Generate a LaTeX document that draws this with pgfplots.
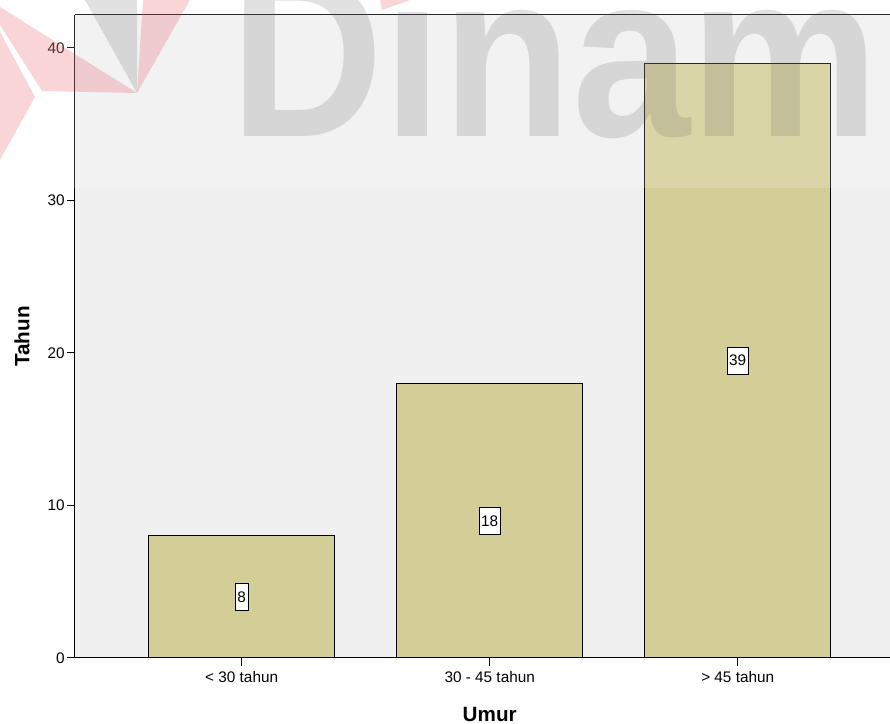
\documentclass[border=0pt]{standalone}
\usepackage{fontspec}
\setmainfont{Liberation Sans}
\usepackage{pgfplots}
\pgfplotsset{compat=1.18}
\definecolor{barfill}{RGB}{211,206,151}
\definecolor{plotbg}{RGB}{240,240,240}
\definecolor{wmgray}{RGB}{60,60,60}
\definecolor{wmred}{RGB}{225,30,45}
\begin{document}
\begin{tikzpicture}
\begin{axis}[
  at={(0,0)}, anchor=south west,
  scale only axis, width=611.25pt, height=482.25pt,
  xmin=-0.672, xmax=2.614, ymin=0, ymax=42.16,
  axis background/.style={fill=plotbg},
  axis x line*=bottom, axis y line*=left,
  axis line style={black, line width=0.75pt, -},
  xtick={0,1,2},
  xticklabels={{< 30 tahun},{30 - 45 tahun},{> 45 tahun}},
  ytick={0,10,20,30,40},
  tick align=outside, major tick length=6pt,
  tick style={black, line width=0.75pt},
  /pgf/number format/assume math mode=true,
  x tick label style={font=\fontsize{11.5}{13}\selectfont, inner sep=2pt, yshift=-2pt},
  y tick label style={font=\fontsize{11.5}{13}\selectfont, inner sep=1.5pt},
  xlabel={Umur}, ylabel={Tahun},
  xlabel style={at={(axis cs:1,0)}, anchor=center, yshift=-42pt, font=\fontsize{15.5}{18}\selectfont\bfseries},
  ylabel style={at={(rel axis cs:-0.065,0.5)}, anchor=center, font=\fontsize{15.5}{18}\selectfont\bfseries},
  clip=false,
]
\addplot[ybar, bar width=139.5pt, fill=barfill, draw=black, line width=0.75pt]
  coordinates {(0,8) (1,18) (2,39)};
\addplot[draw=none, mark=none, nodes near coords, point meta=explicit symbolic,
  nodes near coords align=center,
  every node near coord/.style={fill=white, draw=black, line width=0.6pt, inner xsep=1.6pt, inner ysep=0pt, minimum height=20pt, font=\fontsize{11.5}{13}\selectfont, anchor=center}]
  coordinates {(0,4) [8] (1,9) [18] (2,19.5) [39]};
\draw[black, line width=0.75pt] (rel axis cs:0,1) -- (rel axis cs:1,1);
\end{axis}
\begin{scope}[x=0.75pt, y=-0.75pt, shift={(-56.25pt,493.5pt)}]
  % watermark (logo shapes and text)
  \fill[wmred, opacity=0.22] (0,7) -- (137,93) -- (42,91) -- (0,25) -- cycle;
  \fill[wmred, opacity=0.22] (0,32) -- (35,97) -- (0,160) -- cycle;
  \fill[wmred, opacity=0.22] (137,93) -- (190,0) -- (143,0) -- cycle;
  \fill[wmred, opacity=0.22] (380,0) -- (410,0) -- (382,10) -- cycle;
  \fill[wmgray, opacity=0.18] (137,93) -- (85,0) -- (137,0) -- cycle;
  \node[anchor=base west, inner sep=0pt, text=wmgray, opacity=0.18, xscale=0.905,
        font=\fontsize{176}{176}\selectfont\bfseries] at (230,137) {Dinam};
  % light band over the top
  \fill[white, opacity=0.16] (0,0) rectangle (890,188);
\end{scope}
\pgfresetboundingbox
\useasboundingbox (-56.25pt,-49.5pt) rectangle (611.25pt,493.5pt);
\end{tikzpicture}
\end{document}
